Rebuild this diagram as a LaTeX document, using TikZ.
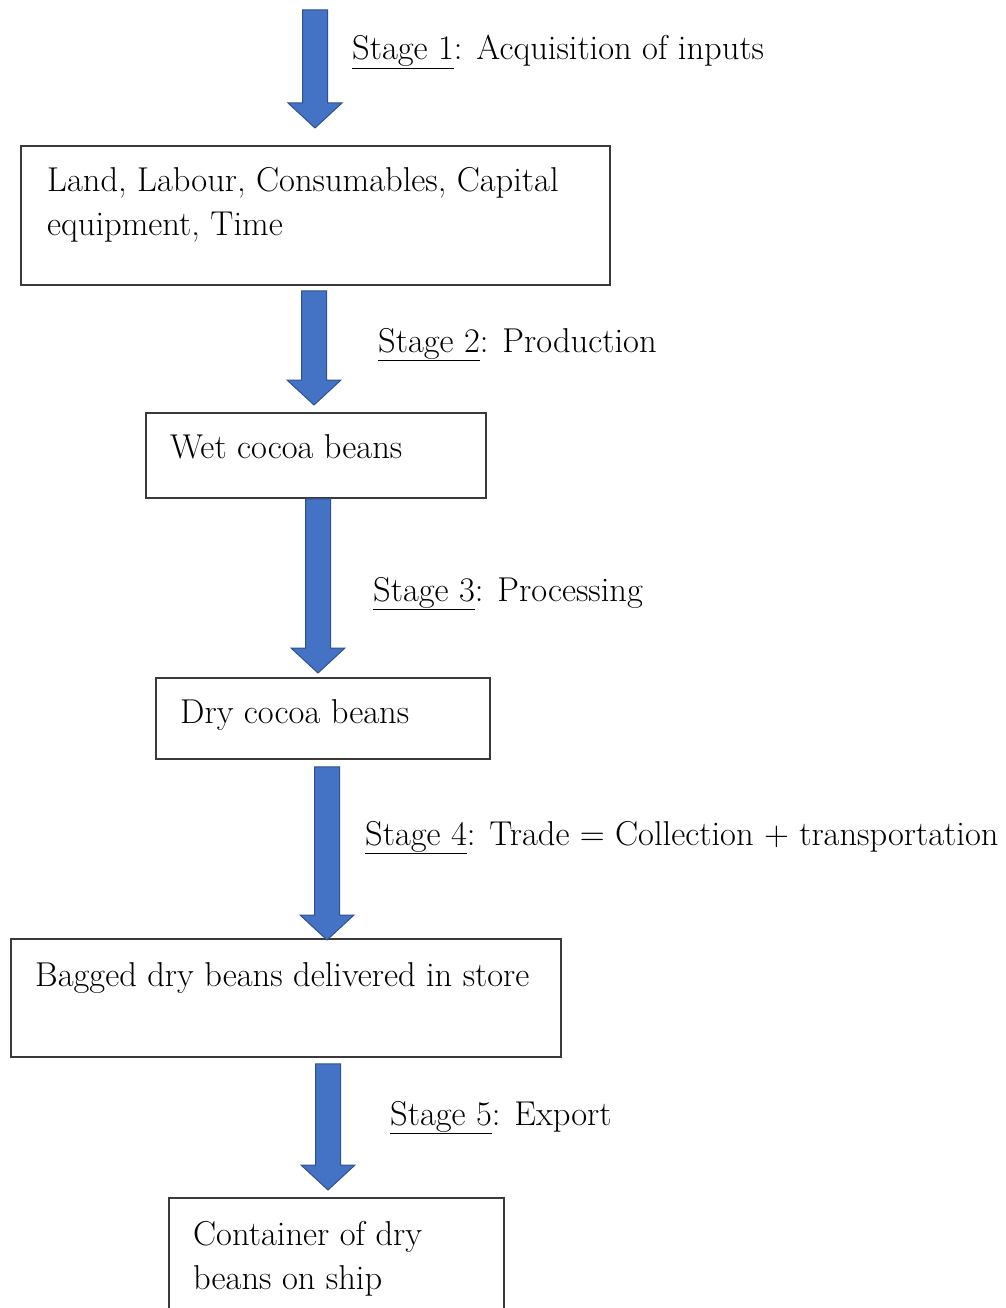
\documentclass[tikz,border=0pt]{standalone}
\usepackage{fontspec}
\usetikzlibrary{calc}
\definecolor{arrowblue}{HTML}{4472C4}
\definecolor{arrowedge}{HTML}{2F528F}
\definecolor{boxedge}{HTML}{3A3A3A}
\tikzset{
  box/.style={draw=boxedge, line width=1.8pt, fill=white, inner sep=0pt, anchor=north west},
  txt/.style={inner sep=0pt, anchor=base west, font=\fontsize{34.5}{44}\selectfont, align=left},
  lbl/.style={inner sep=0pt, anchor=base west, font=\fontsize{34.5}{44}\selectfont},
  bigarrow/.style={fill=arrowblue, draw=arrowedge, line width=1pt, line join=miter,
    to path={let \p1=(\tikztostart), \p2=(\tikztotarget) in
      (\x1-12.5pt,\y1) -- (\x1+12.5pt,\y1) -- (\x1+12.5pt,\y2+25pt) -- (\x1+27pt,\y2+25pt)
      -- (\x1,\y2) -- (\x1-27pt,\y2+25pt) -- (\x1-12.5pt,\y2+25pt) -- cycle}}
}
\begin{document}
\begin{tikzpicture}[x=1pt,y=-1pt]
\useasboundingbox (0,0) rectangle (1005,1308);
\clip (0,0) rectangle (1005,1308);
% boxes
\node[box, minimum width=589pt, minimum height=139pt] (b1) at (20,145) {};
\node[box, minimum width=340pt, minimum height=85pt] (b2) at (145,412) {};
\node[box, minimum width=334pt, minimum height=81pt] (b3) at (155,677) {};
\node[box, minimum width=550pt, minimum height=118pt] (b4) at (10,938) {};
\node[box, minimum width=335pt, minimum height=140pt] (b5) at (168,1197) {};
% box texts (base = baseline of last line)
\node[txt] (t1) at ($(b1.north west)+(27,90)$) {Land, Labour, Consumables, Capital\\equipment, Time};
\node[txt] (t2) at ($(b2.north west)+(25,46)$) {Wet cocoa beans};
\node[txt] (t3) at ($(b3.north west)+(25,46)$) {Dry cocoa beans};
\node[txt] (t4) at ($(b4.north west)+(25,48)$) {Bagged dry beans delivered in store};
\node[txt] (t5) at ($(b5.north west)+(25,92)$) {Container of dry\\beans on ship};
% arrow columns
\coordinate (c1) at (315,0);
\coordinate (c2) at (314,0);
\coordinate (c3) at (318,0);
\coordinate (c4) at (327,0);
\coordinate (c5) at (328,0);
\coordinate (top) at (315,10);
% arrows
\path[bigarrow] (top) to ($(b1.north -| c1)+(0,-17)$);
\path[bigarrow] ($(b1.south -| c2)+(0,5)$) to ($(b2.north -| c2)+(0,-7)$);
\path[bigarrow] ($(b2.south -| c3)+(0,0)$) to ($(b3.north -| c3)+(0,-4)$);
\path[bigarrow] ($(b3.south -| c4)+(0,7)$) to ($(b4.north -| c4)+(0,2)$);
\path[bigarrow] ($(b4.south -| c5)+(0,6)$) to ($(b5.north -| c5)+(0,-7)$);
% stage labels
\node[lbl] (l1) at (352,60) {\underline{Stage 1}: Acquisition of inputs};
\node[lbl] (l2) at (378,352) {\underline{Stage 2}: Production};
\node[lbl] (l3) at (373,601) {\underline{Stage 3}: Processing};
\node[lbl] (l4) at (365,845) {\underline{Stage 4}: Trade = Collection + transportation};
\node[lbl] (l5) at (390,1125) {\underline{Stage 5}: Export};
\end{tikzpicture}
\end{document}
